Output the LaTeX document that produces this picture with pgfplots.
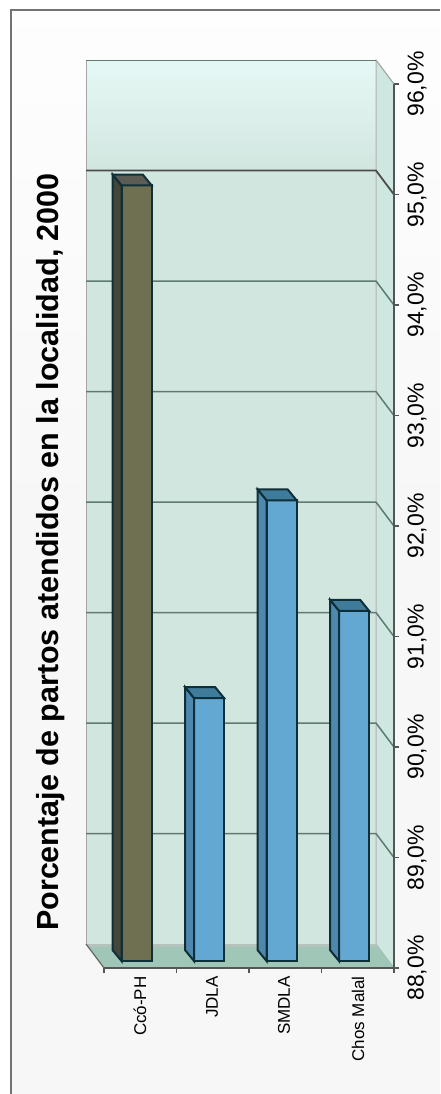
\documentclass[border=0pt]{standalone}
\usepackage{pgfplots}
\pgfplotsset{compat=1.18}
\usepackage{fontspec}
\setmainfont{Liberation Sans}
\definecolor{wallmid}{HTML}{D2E6E0}
\definecolor{walltop}{HTML}{E6F8F5}
\definecolor{sidewall}{HTML}{CFE7E1}
\definecolor{floorc}{HTML}{9FC6B6}
\definecolor{floorb}{HTML}{B4C4BC}
\definecolor{gridc}{HTML}{5F7A70}
\definecolor{edgec}{HTML}{0F2F38}
\definecolor{brownf}{HTML}{6F6F52}
\definecolor{browns}{HTML}{45453A}
\definecolor{brownt}{HTML}{5C5C54}
\definecolor{bluef}{HTML}{63A8D2}
\definecolor{blues}{HTML}{4F88AE}
\definecolor{bluet}{HTML}{3F7C9C}
\definecolor{axisc}{HTML}{555555}
\newlength{\px}\setlength{\px}{0.5pt}
% A bar standing inside the floor: front, left side and top faces.
\newcommand{\barsolid}[5]{%
  \pgfmathsetmacro{\xa}{#1}\pgfmathsetmacro{\xb}{#1+0.414}%
  \pgfmathsetmacro{\xc}{#1-0.124}\pgfmathsetmacro{\xd}{#1+0.29}%
  \pgfmathsetmacro{\yt}{#2}\pgfmathsetmacro{\yb}{#2+0.0995}%
  \addplot[fill=#3,draw=edgec,line width=2\px,forget plot,xshift=-4.8\px,yshift=6.8\px] coordinates {(\xa,88) (\xa,\yt) (\xb,\yt) (\xb,88)} -- cycle;
  \addplot[fill=#4,draw=edgec,line width=2\px,forget plot,xshift=-4.8\px,yshift=6.8\px] coordinates {(\xa,88) (\xa,\yt) (\xc,\yb) (\xc,88.0995)} -- cycle;
  \addplot[fill=#5,draw=edgec,line width=2\px,forget plot,xshift=-4.8\px,yshift=6.8\px] coordinates {(\xa,\yt) (\xc,\yb) (\xd,\yb) (\xb,\yt)} -- cycle;
}
\begin{document}
\begin{tikzpicture}[x=\px,y=\px]
\useasboundingbox (0,0) rectangle (440,1094);
\fill[white] (0,0) rectangle (440,1094);
\fill[black!3] (11,0) rectangle (440,600);
\shade[top color=black!0.5,bottom color=black!3] (11,600) rectangle (440,1084);
\draw[black!55,line width=2\px] (10.5,0) -- (10.5,1084) -- (440,1084);
\begin{axis}[
  at={(104\px,126\px)},anchor=south west,
  scale only axis,width=290\px,height=884\px,
  xmin=0,xmax=4,ymin=88,ymax=96,
  clip=false,axis on top,
  axis line style={axisc,line width=1.6\px},
  axis x line*=bottom,axis y line*=right,
  tick style={axisc,line width=1.4\px},
  tick align=outside,major tick length=5\px,
  xtick={0,1,2,3,4},xticklabels={},
  ytick={88,89,...,96},
  yticklabel style={rotate=90,anchor=center,yshift=-18\px,font=\fontsize{11.5pt}{12pt}\selectfont},
  yticklabel={\pgfmathprintnumber[fixed,fixed zerofill,precision=1,use comma,assume math mode=true]{\tick}\%},
]
% back wall
\addplot[fill=wallmid,draw=black!35,line width=\px,forget plot] coordinates {(-0.248,88.217) (-0.248,95.217) (3.752,95.217) (3.752,88.217)} -- cycle;
\addplot[top color=walltop,bottom color=wallmid,draw=black!35,line width=\px,forget plot] coordinates {(-0.248,95.217) (-0.248,96.217) (3.752,96.217) (3.752,95.217)} -- cycle;
% side wall
\addplot[fill=sidewall,draw=black!30,line width=\px,forget plot] coordinates {(3.752,88.217) (3.752,96.217) (4,96) (4,88)} -- cycle;
% floor
\addplot[fill=floorc,draw=none,forget plot] coordinates {(0,88) (-0.248,88.217) (3.752,88.217) (4,88)} -- cycle;
\addplot[fill=floorb,draw=none,forget plot] coordinates {(-0.248,88.217) (3.752,88.217) (3.79,88.19) (-0.21,88.19)} -- cycle;
\addplot[black!60,line width=1.2\px,forget plot] coordinates {(-0.248,88.217) (0,88)};
% grid lines on wall and side wall
\addplot[gridc,line width=1.5\px,forget plot] coordinates {(-0.248,89.217) (3.752,89.217) (4,89)};
\addplot[gridc,line width=1.5\px,forget plot] coordinates {(-0.248,90.217) (3.752,90.217) (4,90)};
\addplot[gridc,line width=1.5\px,forget plot] coordinates {(-0.248,91.217) (3.752,91.217) (4,91)};
\addplot[gridc,line width=1.5\px,forget plot] coordinates {(-0.248,92.217) (3.752,92.217) (4,92)};
\addplot[gridc,line width=1.5\px,forget plot] coordinates {(-0.248,93.217) (3.752,93.217) (4,93)};
\addplot[gridc,line width=1.5\px,forget plot] coordinates {(-0.248,94.217) (3.752,94.217) (4,94)};
\addplot[black!70,line width=1.8\px,forget plot] coordinates {(-0.248,95.217) (3.752,95.217) (4,95)};
\addplot[gridc!60,line width=1\px,forget plot] coordinates {(3.752,96.217) (4,96)};
\addplot[gridc,line width=1\px,forget plot] coordinates {(-0.248,96.217) (3.752,96.217)};
% bars
\barsolid{0.31}{95.02}{brownf}{browns}{brownt}
\barsolid{1.31}{90.38}{bluef}{blues}{bluet}
\barsolid{2.31}{92.17}{bluef}{blues}{bluet}
\barsolid{3.31}{91.17}{bluef}{blues}{bluet}
\end{axis}
\node[rotate=90,font=\bfseries\fontsize{15.25pt}{16pt}\selectfont,anchor=base] at (58,542) {Porcentaje de partos atendidos en la localidad, 2000};
\foreach \x/\t in {140/Ccó-PH,212/JDLA,284/SMDLA,358/Chos Malal}
  \node[rotate=90,anchor=east,inner sep=0pt,font=\fontsize{8.5pt}{10pt}\selectfont] at (\x,118) {\t};
\end{tikzpicture}
\end{document}
